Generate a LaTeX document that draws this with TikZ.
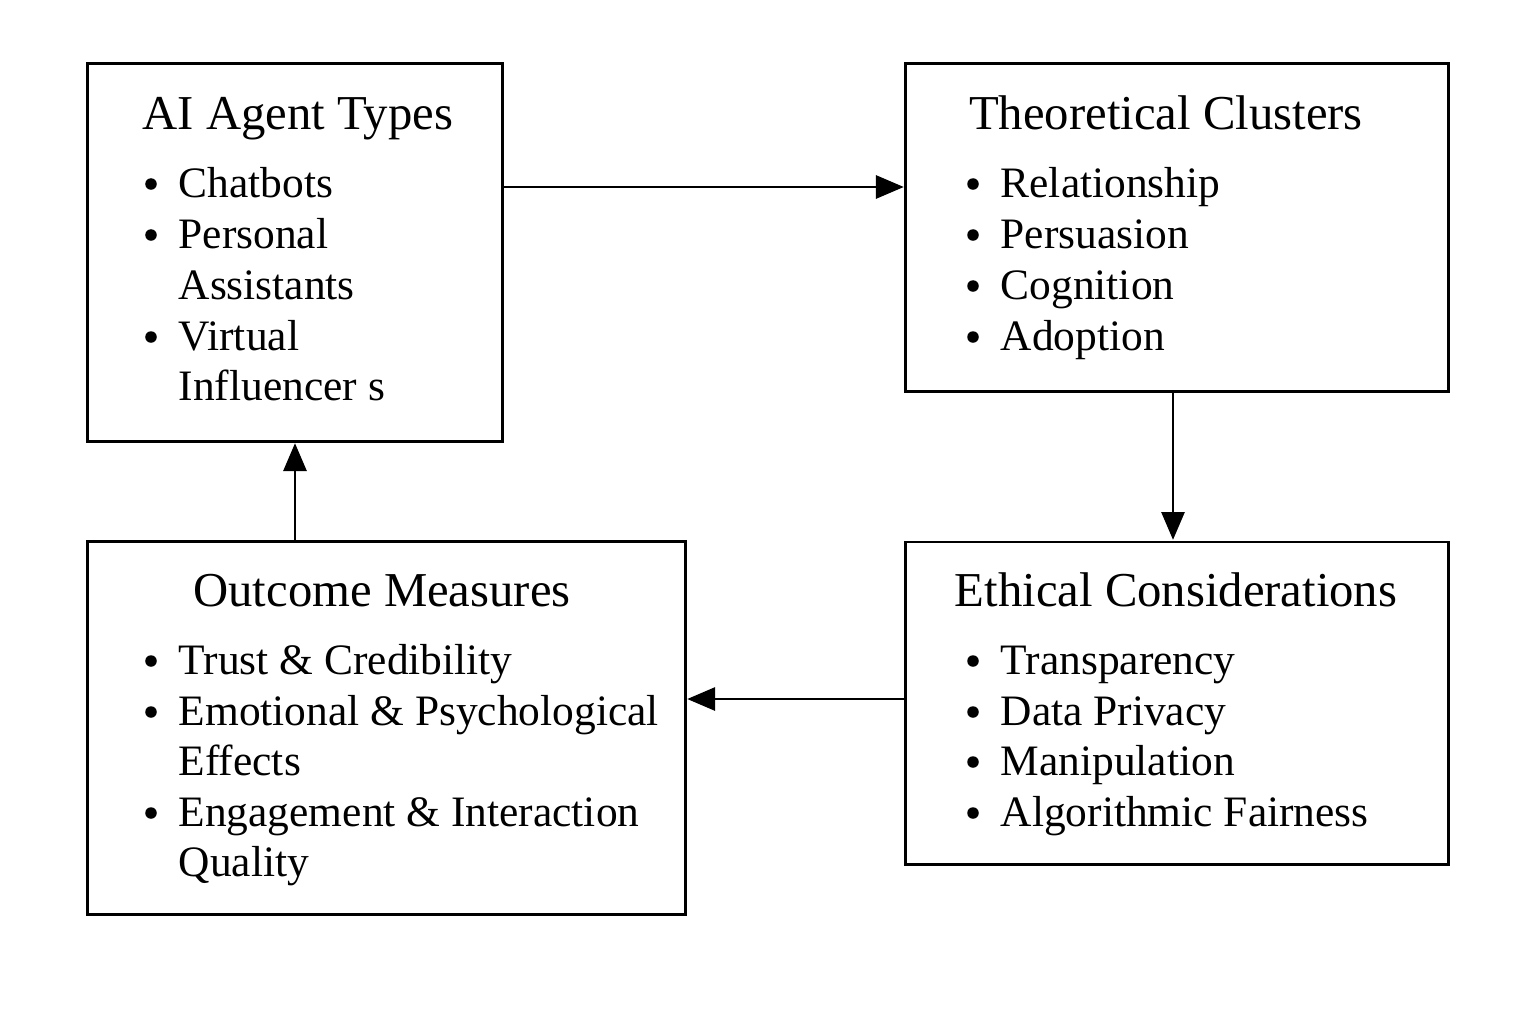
\documentclass[tikz,border=0pt]{standalone}
\usepackage{fontspec}
\setmainfont{Liberation Serif}
\usetikzlibrary{arrows.meta}
\tikzset{
  box/.style={draw=black, line width=0.8pt, inner sep=0pt, outer sep=0pt},
  title/.style={anchor=base, inner sep=0pt, font=\fontsize{13.85}{16}\selectfont},
  item/.style={anchor=base west, inner sep=0pt, font=\fontsize{12.35}{15}\selectfont},
  dot/.style={circle, fill=black, inner sep=0pt, minimum size=1.15mm},
  conn/.style={line width=0.6pt, -{Triangle[length=7.9pt,width=6.6pt]}, shorten >=0.6pt}
}
\begin{document}
\begin{tikzpicture}[x=0.01cm,y=-0.01cm]
\useasboundingbox[fill=white] (0,0) rectangle (1536,1024);
% boxes
\node[box, minimum width=41.4mm, minimum height=37.7mm] (A) at (295,252.5) {};
\node[box, minimum width=54.2mm, minimum height=32.7mm] (B) at (1177,227.5) {};
\node[box, minimum width=54.2mm, minimum height=32.2mm] (C) at (1177,703) {};
\node[box, minimum width=59.7mm, minimum height=37.2mm] (D) at (386.5,728) {};
% box A text
\node[title] (At) at (298,129) {AI Agent Types};
\node[dot] (Ab1) at (151,184) {};
\node[item] (Ai1) at (178,197) {Chatbots};
\node[dot] (Ab2) at (151,235) {};
\node[item] (Ai2) at (178,248) {Personal};
\node[item] (Ai3) at (178,299) {Assistants};
\node[dot] (Ab3) at (151,337) {};
\node[item] (Ai4) at (178,350) {Virtual};
\node[item] (Ai5) at (178,400) {Influencer s};
% box B text
\node[title] (Bt) at (1166,129) {Theoretical Clusters};
\node[dot] (Bb1) at (973,184) {};
\node[item] (Bi1) at (1000,197) {Relationship};
\node[dot] (Bb2) at (973,235) {};
\node[item] (Bi2) at (1000,248) {Persuasion};
\node[dot] (Bb3) at (973,286) {};
\node[item] (Bi3) at (1000,299) {Cognition};
\node[dot] (Bb4) at (973,337) {};
\node[item] (Bi4) at (1000,350) {Adoption};
% box C text
\node[title] (Ct) at (1176,606) {Ethical Considerations};
\node[dot] (Cb1) at (973,661) {};
\node[item] (Ci1) at (1000,674) {Transparency};
\node[dot] (Cb2) at (973,712) {};
\node[item] (Ci2) at (1000,725) {Data Privacy};
\node[dot] (Cb3) at (973,762) {};
\node[item] (Ci3) at (1000,775) {Manipulation};
\node[dot] (Cb4) at (973,813) {};
\node[item] (Ci4) at (1000,826) {Algorithmic Fairness};
% box D text
\node[title] (Dt) at (382,606) {Outcome Measures};
\node[dot] (Db1) at (151,661) {};
\node[item] (Di1) at (178,674) {Trust \& Credibility};
\node[dot] (Db2) at (151,712) {};
\node[item] (Di2) at (178,725) {Emotional \& Psychological};
\node[item] (Di3) at (178,775) {Effects};
\node[dot] (Db3) at (151,813) {};
\node[item] (Di4) at (178,826) {Engagement \& Interaction};
\node[item] (Di5) at (178,876) {Quality};
% connectors
\draw[conn] (A.east |- 0,187) -- (B.west |- 0,187);
\draw[conn] (B.south -| 1173,0) -- (C.north -| 1173,0);
\draw[conn] (C.west |- 0,699) -- (D.east |- 0,699);
\draw[conn] (D.north -| A.south) -- (A.south);
\end{tikzpicture}
\end{document}
